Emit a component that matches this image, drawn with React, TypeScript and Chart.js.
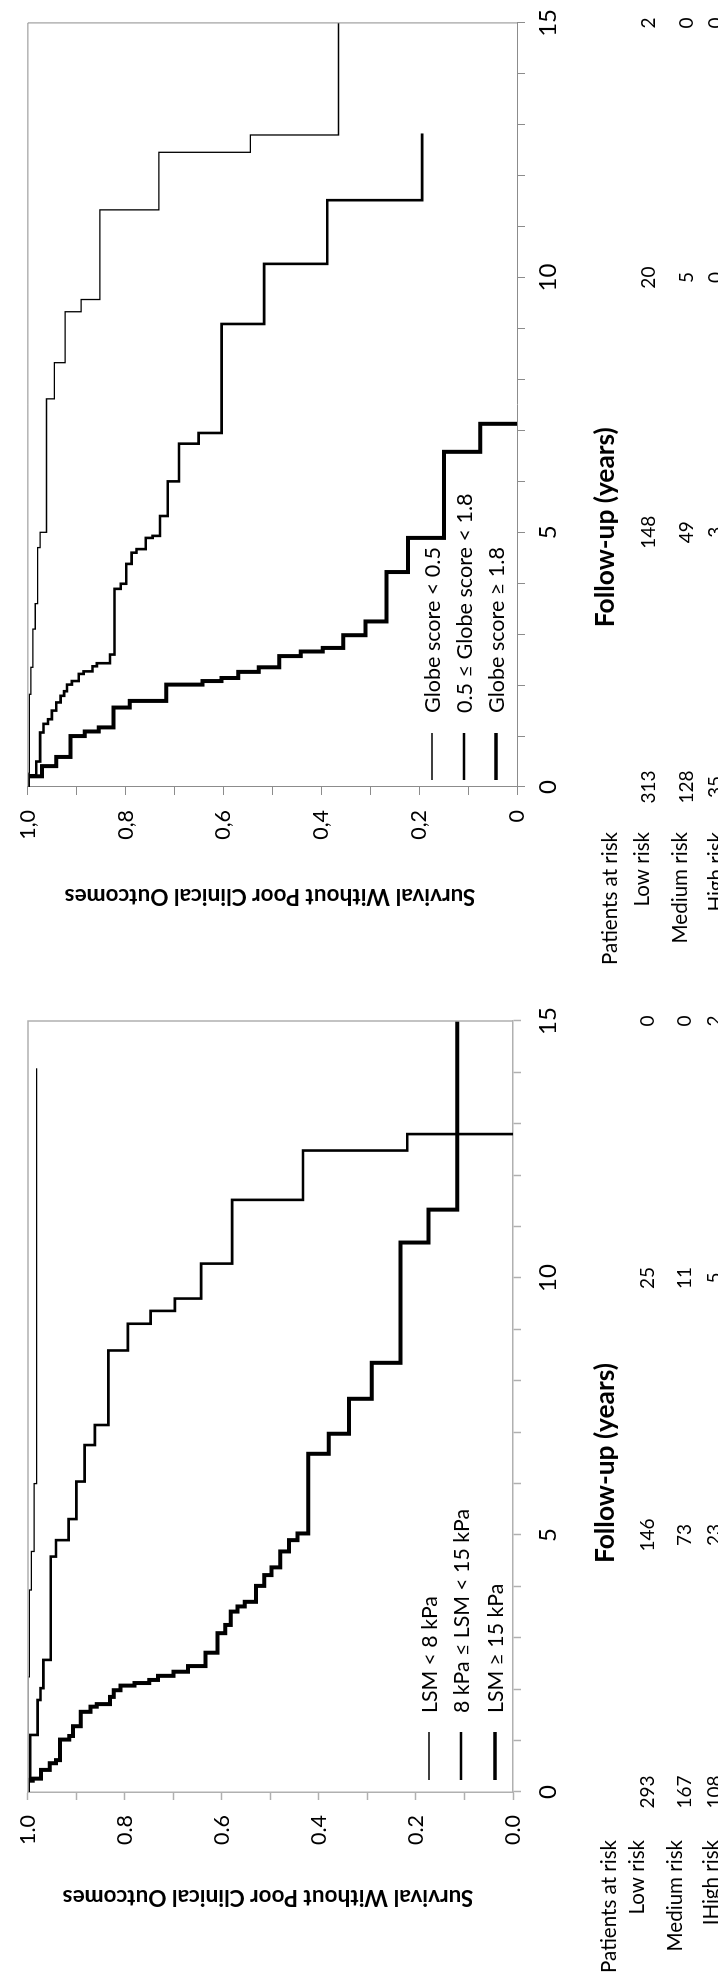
import React, { useEffect, useRef } from 'react';
import { Chart, registerables } from 'chart.js';

Chart.register(...registerables);
const FONT = 'Lato, "Open Sans", sans-serif';
Chart.defaults.color = '#000';
Chart.defaults.font.family = FONT;

// ---------- shared ----------
const TIME_TICK_LABELS = ['0', '5', '10', '15'];
const RISK_TIMES = [0, 5, 10, 15];
const Y_TITLE = 'Survival Without Poor Clinical Outcomes';
const X_TITLE = 'Follow-up (years)';

// ---------- left panel: LSM ----------
const LSM_SURV_TICKS = ['0.0', '0.2', '0.4', '0.6', '0.8', '1.0'];
const LSM_LEGEND = ['LSM < 8 kPa', '8 kPa \u2264 LSM < 15 kPa', 'LSM \u2265 15 kPa'];
const LSM_RISK_LABELS = ['Patients at risk', 'Low risk', 'Medium risk', 'IHigh risk'];
const LSM_RISK_LOW = [293, 146, 25, 0];
const LSM_RISK_MED = [167, 73, 11, 0];
const LSM_RISK_HIGH = [108, 23, 5, 2];

const LSM_LOW_T = [0, 2.24, 3.93, 4.68, 6.0, 14.08];
const LSM_LOW_S = [1.0, 0.997, 0.993, 0.987, 0.982, 0.982];

const LSM_MED_T = [0, 0.25, 1.11, 1.79, 2.02, 2.57, 4.58, 4.9, 5.31, 6.04, 6.75, 7.14, 8.59, 9.11, 9.36, 9.6, 10.28, 11.52, 12.48, 12.8];
const LSM_MED_S = [1.0, 0.995, 0.98, 0.974, 0.968, 0.953, 0.942, 0.916, 0.9, 0.883, 0.862, 0.834, 0.794, 0.747, 0.697, 0.643, 0.579, 0.433, 0.218, 0.0];

const LSM_HIGH_T = [0, 0.22, 0.26, 0.43, 0.56, 0.62, 1.02, 1.09, 1.28, 1.56, 1.66, 1.71, 1.85, 1.98, 2.07, 2.12, 2.18, 2.26, 2.34, 2.45, 2.71, 3.09, 3.25, 3.51, 3.61, 3.7, 4.01, 4.22, 4.37, 4.68, 4.9, 5.03, 6.58, 6.97, 7.65, 8.35, 10.69, 11.33, 15];
const LSM_HIGH_S = [1.0, 0.99, 0.973, 0.955, 0.942, 0.934, 0.915, 0.907, 0.891, 0.871, 0.858, 0.831, 0.823, 0.809, 0.78, 0.75, 0.732, 0.7, 0.67, 0.634, 0.609, 0.593, 0.582, 0.568, 0.553, 0.53, 0.513, 0.498, 0.48, 0.462, 0.444, 0.422, 0.38, 0.338, 0.291, 0.232, 0.174, 0.115, 0.115];

// ---------- right panel: Globe score ----------
const GLOBE_SURV_TICKS = ['0', '0,2', '0,4', '0,6', '0,8', '1,0'];
const GLOBE_LEGEND = ['Globe score < 0.5', '0.5 \u2264 Globe score < 1.8', 'Globe score \u2265 1.8'];
const GLOBE_RISK_LABELS = ['Patients at risk', 'Low risk', 'Medium risk', 'High risk'];
const GLOBE_RISK_LOW = [313, 148, 20, 2];
const GLOBE_RISK_MED = [128, 49, 5, 0];
const GLOBE_RISK_HIGH = [35, 3, 0, 0];

const GLOBE_LOW_T = [0, 0.27, 1.82, 2.35, 3.1, 3.6, 4.7, 5.0, 7.62, 8.33, 9.33, 9.57, 11.33, 12.46, 12.8, 15];
const GLOBE_LOW_S = [1.0, 0.997, 0.994, 0.99, 0.985, 0.98, 0.975, 0.962, 0.946, 0.924, 0.891, 0.853, 0.732, 0.545, 0.365, 0.365];

const GLOBE_MED_T = [0, 0.23, 0.5, 1.07, 1.24, 1.33, 1.5, 1.66, 1.79, 1.88, 2.01, 2.08, 2.22, 2.27, 2.37, 2.43, 2.6, 3.89, 3.99, 4.38, 4.6, 4.67, 4.89, 4.93, 5.32, 6.0, 6.74, 6.95, 9.09, 10.27, 11.52, 12.83];
const GLOBE_MED_S = [1.0, 0.983, 0.975, 0.968, 0.959, 0.951, 0.942, 0.933, 0.926, 0.92, 0.91, 0.896, 0.886, 0.868, 0.859, 0.832, 0.823, 0.81, 0.799, 0.788, 0.778, 0.759, 0.745, 0.73, 0.714, 0.691, 0.651, 0.604, 0.517, 0.388, 0.194, 0.194];

const GLOBE_HIGH_T = [0, 0.21, 0.41, 0.59, 1.0, 1.09, 1.17, 1.56, 1.69, 2.01, 2.08, 2.14, 2.26, 2.35, 2.57, 2.66, 2.73, 2.98, 3.25, 4.22, 4.89, 6.58, 7.13];
const GLOBE_HIGH_S = [1.0, 0.971, 0.942, 0.913, 0.884, 0.855, 0.825, 0.792, 0.717, 0.643, 0.604, 0.57, 0.528, 0.486, 0.442, 0.397, 0.355, 0.31, 0.267, 0.223, 0.149, 0.075, 0.0];

const toPoints = (t: number[], s: number[]) => t.map((x, i) => ({ x, y: s[i] }));

const CANVAS_W = 988;
const CANVAS_H = 718;
const LINE_WIDTHS = [1.3, 2.6, 4];
const LEGEND_WIDTHS = [1.3, 2.6, 3.6];

// font size so that `text` spans `target` px
let measureCtx: CanvasRenderingContext2D | null = null;
function fitSize(text: string, target: number, weight = 'normal') {
  if (!measureCtx) measureCtx = document.createElement('canvas').getContext('2d');
  if (!measureCtx) return 20;
  measureCtx.font = `${weight} 100px ${FONT}`;
  const w = measureCtx.measureText(text).width || 1;
  return (100 * target) / w;
}

type PanelCfg = {
  area: { left: number; right: number; top: number; bottom: number };
  axisColor: string;
  axisWidth: number;
  survTicks: string[];
  series: { t: number[]; s: number[] }[];
  legend: string[];
  legendFitText: string;
  legendFitWidth: number;
  legendRows: number[];
  legendLine: [number, number];
  legendText: number;
  riskLabels: string[];
  riskCounts: number[][];
  riskLabelRows: number[];
  riskCountRows: number[];
  riskLabelRight: number;
  yTitleX: number;
  yTitleY: number;
  xTitleT: number;
  xTitleY: number;
  xTickPad: number;
};

const LSM_CFG: PanelCfg = {
  area: { left: 184, right: 955, top: 23, bottom: 513 },
  axisColor: '#b0b0b0',
  axisWidth: 1.5,
  survTicks: LSM_SURV_TICKS,
  series: [
    { t: LSM_LOW_T, s: LSM_LOW_S },
    { t: LSM_MED_T, s: LSM_MED_S },
    { t: LSM_HIGH_T, s: LSM_HIGH_S },
  ],
  legend: LSM_LEGEND,
  legendFitText: LSM_LEGEND[1],
  legendFitWidth: 204,
  legendRows: [429, 461, 495],
  legendLine: [12, 60],
  legendText: 79,
  riskLabels: LSM_RISK_LABELS,
  riskCounts: [LSM_RISK_LOW, LSM_RISK_MED, LSM_RISK_HIGH],
  riskLabelRows: [609, 637, 675, 711],
  riskCountRows: [648, 685, 715],
  riskLabelRight: 48,
  yTitleX: 79,
  yTitleY: 268,
  xTitleT: 6.4,
  xTitleY: 606,
  xTickPad: 13,
};

const GLOBE_CFG: PanelCfg = {
  area: { left: 201, right: 973, top: 22, bottom: 517 },
  axisColor: '#8c8c8c',
  axisWidth: 1,
  survTicks: GLOBE_SURV_TICKS,
  series: [
    { t: GLOBE_LOW_T, s: GLOBE_LOW_S },
    { t: GLOBE_MED_T, s: GLOBE_MED_S },
    { t: GLOBE_HIGH_T, s: GLOBE_HIGH_S },
  ],
  legend: GLOBE_LEGEND,
  legendFitText: GLOBE_LEGEND[0],
  legendFitWidth: 166,
  legendRows: [432, 464, 496],
  legendLine: [7, 54],
  legendText: 74,
  riskLabels: GLOBE_RISK_LABELS,
  riskCounts: [GLOBE_RISK_LOW, GLOBE_RISK_MED, GLOBE_RISK_HIGH],
  riskLabelRows: [610, 642, 680, 716],
  riskCountRows: [649, 687, 716],
  riskLabelRight: 45,
  yTitleX: 92,
  yTitleY: 270,
  xTitleT: 5.1,
  xTitleY: 606,
  xTickPad: 9,
};

function makeExtrasPlugin(cfg: PanelCfg) {
  const legendSize = fitSize(cfg.legendFitText, cfg.legendFitWidth);
  const riskLabelSize = fitSize('Patients at risk', 133);
  const riskNumSize = Math.max(19, fitSize('293', 30));
  const yTitleSize = fitSize(Y_TITLE, 411, 'bold');
  const xTitleSize = fitSize(X_TITLE, 200, 'bold');
  return {
    id: 'panelExtras',
    afterDraw(chart: any) {
      const ctx = chart.ctx as CanvasRenderingContext2D;
      const a = chart.chartArea;
      const xs = chart.scales.x;
      ctx.save();
      // frame (top and right edges)
      ctx.strokeStyle = cfg.axisColor;
      ctx.lineWidth = cfg.axisWidth;
      ctx.beginPath();
      ctx.moveTo(a.left, a.top);
      ctx.lineTo(a.right, a.top);
      ctx.lineTo(a.right, a.bottom);
      ctx.stroke();

      // legend
      ctx.strokeStyle = '#000';
      ctx.fillStyle = '#000';
      ctx.lineCap = 'butt';
      ctx.font = `${legendSize}px ${FONT}`;
      ctx.textAlign = 'left';
      ctx.textBaseline = 'middle';
      cfg.legend.forEach((label, i) => {
        const y = cfg.legendRows[i];
        ctx.lineWidth = LEGEND_WIDTHS[i];
        ctx.beginPath();
        ctx.moveTo(a.left + cfg.legendLine[0], y);
        ctx.lineTo(a.left + cfg.legendLine[1], y);
        ctx.stroke();
        ctx.fillText(label, a.left + cfg.legendText, y + 1);
      });

      // patients at risk
      ctx.font = `${riskLabelSize}px ${FONT}`;
      ctx.textAlign = 'right';
      cfg.riskLabels.forEach((label, i) => {
        ctx.fillText(label, a.left - cfg.riskLabelRight, cfg.riskLabelRows[i]);
      });
      ctx.font = `${riskNumSize}px ${FONT}`;
      ctx.textAlign = 'center';
      cfg.riskCounts.forEach((row, r) => {
        row.forEach((n, j) => {
          ctx.fillText(String(n), xs.getPixelForValue(RISK_TIMES[j]), cfg.riskCountRows[r]);
        });
      });

      // axis titles
      ctx.font = `bold ${xTitleSize}px ${FONT}`;
      ctx.fillText(X_TITLE, xs.getPixelForValue(cfg.xTitleT), cfg.xTitleY);
      ctx.translate(cfg.yTitleX, cfg.yTitleY);
      ctx.rotate(-Math.PI / 2);
      ctx.font = `bold ${yTitleSize}px ${FONT}`;
      ctx.fillText(Y_TITLE, 0, 0);
      ctx.restore();
    },
  };
}

function Panel({ cfg }: { cfg: PanelCfg }) {
  const ref = useRef<HTMLCanvasElement | null>(null);
  useEffect(() => {
    if (!ref.current) return;
    const survTickSize = fitSize('0.0', 30);
    const chart = new Chart(ref.current, {
      type: 'line',
      data: {
        datasets: cfg.series.map((sr, i) => ({
          label: cfg.legend[i],
          data: toPoints(sr.t, sr.s),
          borderColor: '#000',
          backgroundColor: '#000',
          borderWidth: LINE_WIDTHS[i],
          pointRadius: 0,
          fill: false,
          stepped: 'before' as const,
          borderJoinStyle: 'miter' as const,
          borderCapStyle: 'butt' as const,
        })),
      },
      options: {
        animation: false,
        responsive: false,
        devicePixelRatio: 1,
        events: [],
        layout: {
          padding: {
            left: 0,
            top: cfg.area.top,
            right: CANVAS_W - cfg.area.right,
            bottom: 0,
          },
        },
        plugins: {
          legend: { display: false },
          tooltip: { enabled: false },
          title: { display: false },
        },
        scales: {
          x: {
            type: 'linear',
            min: 0,
            max: 15,
            afterFit: (s: any) => {
              s.height = CANVAS_H - cfg.area.bottom;
            },
            ticks: {
              stepSize: 1,
              autoSkip: false,
              maxRotation: 0,
              minRotation: 0,
              padding: cfg.xTickPad,
              font: { size: 24 },
              color: '#000',
              callback: (_v: any, i: number) => (i % 5 === 0 ? TIME_TICK_LABELS[i / 5] : ''),
            },
            grid: {
              drawOnChartArea: false,
              drawTicks: true,
              tickLength: 8,
              color: cfg.axisColor,
              tickColor: cfg.axisColor,
              tickWidth: cfg.axisWidth,
            },
            border: { display: true, color: cfg.axisColor, width: cfg.axisWidth },
          },
          y: {
            type: 'linear',
            min: 0,
            max: 1,
            afterFit: (s: any) => {
              s.width = cfg.area.left;
            },
            ticks: {
              stepSize: 0.1,
              autoSkip: false,
              padding: 15,
              font: { size: survTickSize },
              color: '#000',
              callback: (_v: any, i: number) => (i % 2 === 0 ? cfg.survTicks[i / 2] : ''),
            },
            grid: {
              drawOnChartArea: false,
              drawTicks: true,
              tickLength: 8,
              color: cfg.axisColor,
              tickColor: cfg.axisColor,
              tickWidth: cfg.axisWidth,
            },
            border: { display: true, color: cfg.axisColor, width: cfg.axisWidth },
          },
        },
      },
      plugins: [makeExtrasPlugin(cfg)],
    } as any);
    return () => chart.destroy();
  }, [cfg]);
  return (
    <canvas
      ref={ref}
      width={CANVAS_W}
      height={CANVAS_H}
      style={{ display: 'block', width: CANVAS_W, height: CANVAS_H }}
    />
  );
}

export default function App() {
  return (
    <div
      style={{
        position: 'fixed',
        left: 0,
        top: 0,
        width: 718,
        height: 1976,
        overflow: 'hidden',
        background: '#fff',
      }}
    >
      <div
        style={{
          position: 'absolute',
          left: 0,
          top: 0,
          width: CANVAS_W * 2,
          height: CANVAS_H,
          display: 'flex',
          transformOrigin: '0 0',
          transform: 'translateY(1976px) rotate(-90deg)',
          background: '#fff',
        }}
      >
        <Panel cfg={LSM_CFG} />
        <Panel cfg={GLOBE_CFG} />
      </div>
    </div>
  );
}
